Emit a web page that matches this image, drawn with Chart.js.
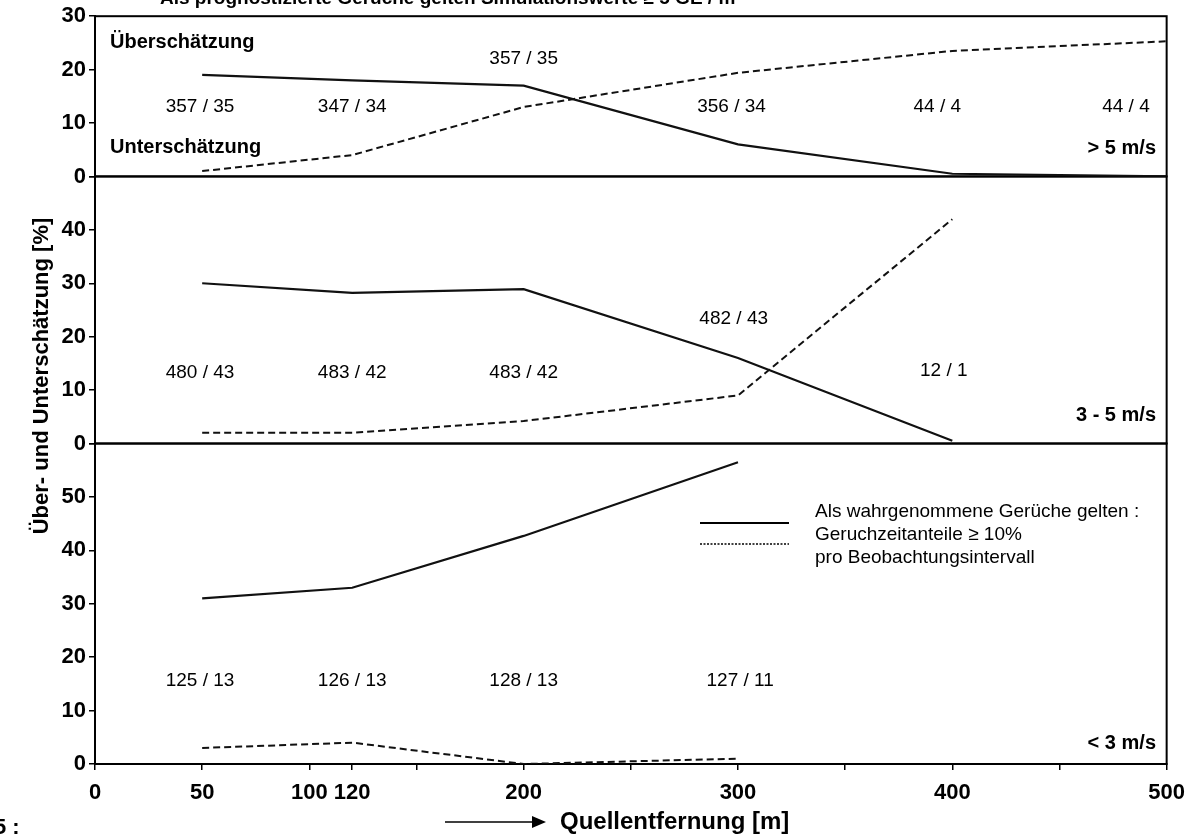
<!DOCTYPE html>
<html>
<head>
<meta charset="utf-8">
<script src="https://cdn.jsdelivr.net/npm/chart.js@4.4.1/dist/chart.umd.min.js"></script>
<style>
  html, body { margin: 0; padding: 0; background: #fff; }
  #wrap { width: 1195px; height: 838px; }
</style>
</head>
<body>
<div id="wrap"><canvas id="myChart"></canvas></div>
<script>
// Quellentfernung [m]
const distances = [50, 120, 200, 300, 400, 500];

// > 5 m/s
const overHigh  = [19, 18, 17, 6, 0.5, 0];
const underHigh = [1, 4, 13, 19.4, 23.5, 25.3];
// 3 - 5 m/s
const overMid  = [30, 28.2, 28.9, 16, 0.5];
const underMid = [2, 2, 4.2, 9, 42];
// < 3 m/s
const overLow  = [31, 33, 42.7, 56.5];
const underLow = [3, 4, 0, 1];

// counts shown in each panel
const countsHigh = ['357 / 35', '347 / 34', '357 / 35', '356 / 34', '44 / 4', '44 / 4'];
const countsMid  = ['480 / 43', '483 / 42', '483 / 42', '482 / 43', '12 / 1'];
const countsLow  = ['125 / 13', '126 / 13', '128 / 13', '127 / 11'];

const speedLabels = ['> 5 m/s', '3 - 5 m/s', '< 3 m/s'];

const xTicks = [0, 50, 100, 120, 150, 200, 250, 300, 350, 400, 450, 500];
const xLabels = [0, 50, 100, 120, 200, 300, 400, 500];
const yTicksHigh = [0, 10, 20, 30];
const yTicksMid = [0, 10, 20, 30, 40, 50];
const yTicksLow = [0, 10, 20, 30, 40, 50, 60];

const FONT = "'Liberation Sans', Arial, sans-serif";

const pts = (ys) => ys.map((y, i) => ({x: distances[i], y: y}));

function line(data, axis, dashed) {
    return {
        data: pts(data),
        yAxisID: axis,
        borderColor: '#111',
        borderWidth: dashed ? 2 : 2.2,
        borderDash: dashed ? [7, 4] : [],
        pointRadius: 0,
        fill: false,
        tension: 0
    };
}

function yScale(weight, max, ticks, hideTop) {
    return {
        type: 'linear',
        position: 'left',
        stack: 'panels',
        stackWeight: weight,
        min: 0,
        max: max,
        afterBuildTicks: s => { s.ticks = ticks.map(v => ({value: v})); },
        afterFit: s => { s.width = 95; },
        ticks: {
            autoSkip: false,
            color: '#000',
            padding: 3,
            font: {family: FONT, size: 22, weight: 'bold'},
            callback: v => (hideTop && v === max) ? '' : v
        },
        grid: {drawOnChartArea: false, drawTicks: true, tickLength: 6, color: '#000', lineWidth: 1.5},
        border: {display: true, color: '#000', width: 2}
    };
}

// frames around the three panels
const panelFrames = {
    id: 'panelFrames',
    beforeDatasetsDraw(chart) {
        const ctx = chart.ctx;
        const a = chart.chartArea;
        ctx.save();
        ctx.strokeStyle = '#000';
        ctx.lineWidth = 2;
        ['yHigh', 'yMid', 'yLow'].forEach(id => {
            const s = chart.scales[id];
            ctx.strokeRect(a.left, s.top, a.right - a.left, s.bottom - s.top);
        });
        ctx.restore();
    }
};

// texts, legend and axis titles
const annotations = {
    id: 'annotations',
    afterDraw(chart) {
        const ctx = chart.ctx;
        const x = chart.scales.x;
        ctx.save();
        ctx.fillStyle = '#000';
        ctx.strokeStyle = '#000';

        // count labels
        ctx.font = '19px ' + FONT;
        ctx.textAlign = 'center';
        ctx.textBaseline = 'middle';
        const put = (labels, pos, id) => {
            const ys = chart.scales[id];
            labels.forEach((t, i) => {
                ctx.fillText(t, x.getPixelForValue(pos[i][0]), ys.getPixelForValue(pos[i][1]));
            });
        };
        put(countsHigh, [[49, 13], [120, 13], [200, 22.1], [297, 13], [393, 13], [481, 13]], 'yHigh');
        put(countsMid, [[49, 13.3], [120, 13.3], [200, 13.3], [298, 23.3], [396, 13.6]], 'yMid');
        put(countsLow, [[49, 15.5], [120, 15.5], [200, 15.5], [301, 15.5]], 'yLow');

        // panel texts
        ctx.font = 'bold 20px ' + FONT;
        ctx.textAlign = 'left';
        ctx.fillText('Überschätzung', 110, 42);
        ctx.fillText('Unterschätzung', 110, 147);
        ctx.textAlign = 'right';
        ctx.fillText(speedLabels[0], 1156, 148);
        ctx.fillText(speedLabels[1], 1156, 415);
        ctx.fillText(speedLabels[2], 1156, 743);

        // legend
        ctx.lineWidth = 2;
        ctx.beginPath();
        ctx.moveTo(700, 523); ctx.lineTo(789, 523);
        ctx.stroke();
        ctx.lineWidth = 1.5;
        ctx.setLineDash([2, 1.5]);
        ctx.beginPath();
        ctx.moveTo(700, 544); ctx.lineTo(789, 544);
        ctx.stroke();
        ctx.setLineDash([]);
        ctx.font = '19px ' + FONT;
        ctx.textAlign = 'left';
        ctx.fillText('Als wahrgenommene Gerüche gelten :', 815, 512);
        ctx.fillText('Geruchzeitanteile ≥ 10%', 815, 535);
        ctx.fillText('pro Beobachtungsintervall', 815, 558);

        // top title (cut off by the page edge)
        ctx.font = 'bold 19px ' + FONT;
        ctx.textBaseline = 'alphabetic';
        ctx.fillText('Als prognostizierte Gerüche gelten Simulationswerte ≥ 5 GE / m³', 160, 4);

        // x title with arrow
        ctx.textBaseline = 'middle';
        ctx.font = 'bold 24px ' + FONT;
        ctx.fillText('Quellentfernung [m]', 560, 822);
        ctx.lineWidth = 1.5;
        ctx.beginPath();
        ctx.moveTo(445, 822); ctx.lineTo(536, 822);
        ctx.stroke();
        ctx.beginPath();
        ctx.moveTo(546, 822); ctx.lineTo(532, 816); ctx.lineTo(532, 828); ctx.closePath();
        ctx.fill();

        // figure number remnant
        ctx.font = 'bold 22px ' + FONT;
        ctx.fillText('5 :', -6, 828);

        // y title
        ctx.translate(42, 376);
        ctx.rotate(-Math.PI / 2);
        ctx.textAlign = 'center';
        ctx.font = 'bold 22px ' + FONT;
        ctx.fillText('Über- und Unterschätzung [%]', 0, 0);
        ctx.restore();
    }
};

const config = {
    type: 'line',
    data: {
        datasets: [
            line(overLow, 'yLow', false),
            line(underLow, 'yLow', true),
            line(overMid, 'yMid', false),
            line(underMid, 'yMid', true),
            line(overHigh, 'yHigh', false),
            line(underHigh, 'yHigh', true)
        ]
    },
    options: {
        responsive: true,
        maintainAspectRatio: false,
        animation: false,
        layout: {padding: {left: 0, top: 15, right: 25, bottom: 0}},
        plugins: {
            legend: false,
            tooltip: {enabled: false}
        },
        scales: {
            x: {
                type: 'linear',
                position: 'bottom',
                min: 0,
                max: 500,
                afterBuildTicks: s => { s.ticks = xTicks.map(v => ({value: v})); },
                afterFit: s => { s.height = 74; },
                ticks: {
                    autoSkip: false,
                    maxRotation: 0,
                    color: '#000',
                    padding: 10,
                    font: {family: FONT, size: 22, weight: 'bold'},
                    callback: v => xLabels.includes(v) ? v : ''
                },
                grid: {drawOnChartArea: false, drawTicks: true, tickLength: 6, color: '#000', lineWidth: 1.5},
                border: {display: true, color: '#000', width: 2}
            },
            // bottom panel first: stacked left axes are laid out from the last one at the top
            yLow: yScale(60, 60, yTicksLow, true),
            yMid: yScale(50, 50, yTicksMid, true),
            yHigh: yScale(30, 30, yTicksHigh, false)
        }
    },
    plugins: [panelFrames, annotations]
};

const myChart = new Chart(document.getElementById('myChart'), config);
</script>
</body>
</html>
